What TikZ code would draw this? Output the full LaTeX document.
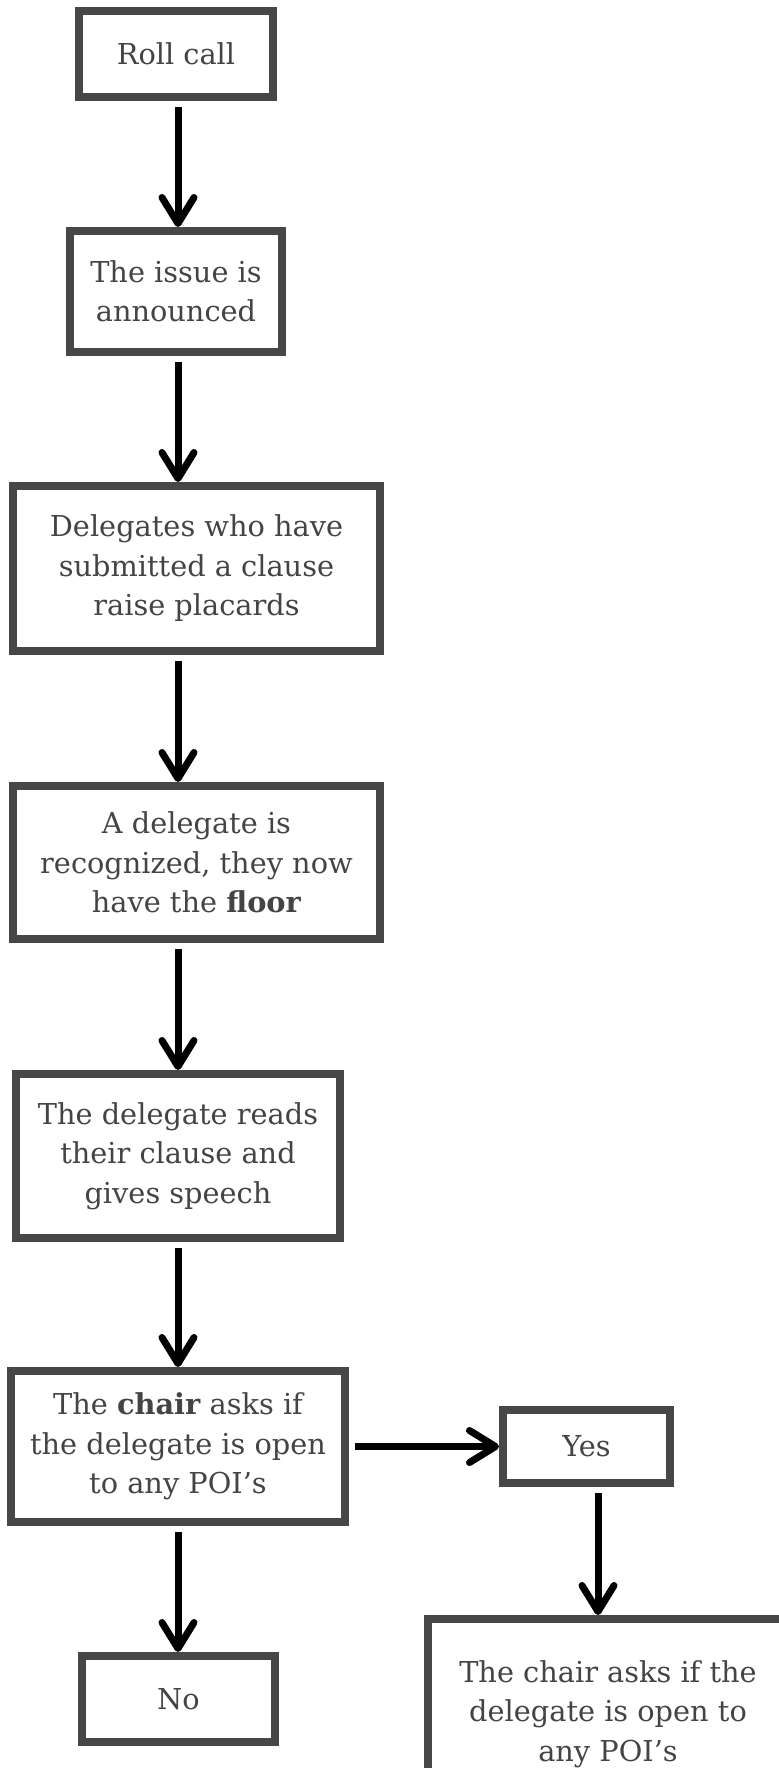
\documentclass[tikz,border=0pt]{standalone}
\usepackage{fontspec}
\setmainfont{DejaVu Serif}
\usetikzlibrary{arrows.meta}
\definecolor{framegray}{HTML}{474747}
\definecolor{textgray}{HTML}{444444}
\begin{document}
\begin{tikzpicture}[x=0.5pt, y=-0.5pt, font=\fontsize{14.4}{19.75}\selectfont,
          stage/.style={draw=framegray, line width=4pt, text=textgray, align=center, inner sep=0pt},
          flow/.style={line width=3.5pt, shorten <=3pt,
            -{Straight Barb[length=13pt, width=16pt, line cap=round, line join=round]}}]
        \clip (0,0) rectangle (779,1768);
        \coordinate (axis) at (178,0);
        \node[stage, minimum width=97pt, minimum height=43pt] (roll) at (176,54) {Roll call};
        \node[stage, minimum width=106pt, minimum height=60.5pt] (issue) at (176,291.5) {The issue is\\announced};
        \node[stage, minimum width=183.5pt, minimum height=82.5pt] (raise) at (196.5,568.5) {Delegates who have\\submitted a clause\\raise placards};
        \node[stage, minimum width=183.5pt, minimum height=76.5pt] (floor) at (196.5,862.5) {A delegate is\\recognized, they now\\have the \textbf{floor}};
        \node[stage, minimum width=162pt, minimum height=82pt] (speech) at (178,1156) {The delegate reads\\their clause and\\gives speech};
        \node[stage, minimum width=167pt, minimum height=75.5pt] (poi) at (178,1446.5) {The \textbf{chair} asks if\\the delegate is open\\to any POI’s};
        \node[stage, minimum width=83.5pt, minimum height=36.5pt] (yes) at (586.5,1446.5) {Yes};
        \node[stage, minimum width=96.5pt, minimum height=43pt] (no) at (178.5,1699) {No};
        \node[stage, minimum width=180pt, minimum height=95pt] (chair) at (608,1714) {The chair asks if the\\delegate is open to\\any POI’s};
        \draw[flow] (roll.south -| axis) -- (issue.north -| axis);
        \draw[flow] (issue.south -| axis) -- (raise.north -| axis);
        \draw[flow] (raise.south -| axis) -- (floor.north -| axis);
        \draw[flow] (floor.south -| axis) -- (speech.north -| axis);
        \draw[flow] (speech.south -| axis) -- (poi.north -| axis);
        \draw[flow] (poi.south -| axis) -- (no.north -| axis);
        \draw[flow] (poi) -- (yes);
        \draw[flow] ([xshift=5.75pt]yes.south) -- ([xshift=5.75pt]yes.south |- chair.north);
      \end{tikzpicture}
\end{document}
